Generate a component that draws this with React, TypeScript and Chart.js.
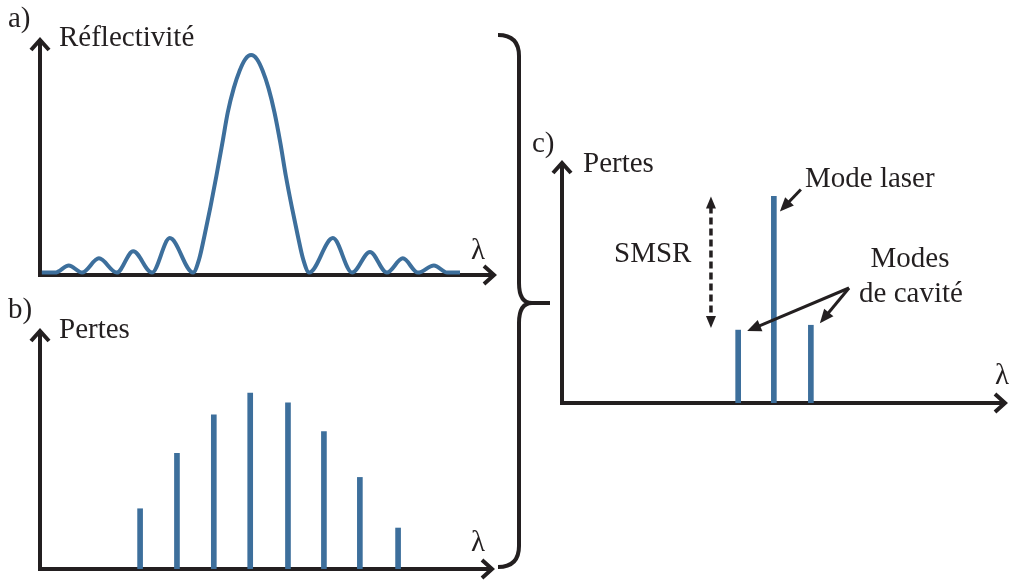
import React, { useEffect, useRef } from "react";
import { Chart, registerables } from "chart.js";

Chart.register(...registerables);

const W = 1011;
const H = 581;
const BLUE = "#3d6f9c";
const INK = "#231f20";
const FONT = '29px "Liberation Serif", "Times New Roman", serif';

// ---- Panel a : reflectivity spectrum (λ in arbitrary units 0..100, R 0..1)
const reflLambda = [0.4, 3.3, 6.3, 9.2, 12.9, 16.8, 20.4, 24.5, 28.4, 33.5, 34.8, 36.0, 37.3, 38.6, 39.9, 41.1, 42.4, 43.7, 44.9, 46.2, 47.5, 48.7, 50.0, 51.3, 52.6, 53.8, 55.1, 56.4, 57.6, 58.9, 64.1, 68.3, 72.2, 75.9, 79.4, 82.7, 86.2, 89.1, 91.9];
const reflValues = [0.01, 0.01, 0.04, 0.01, 0.07, 0.01, 0.10, 0.01, 0.155, 0.01, 0.065, 0.166, 0.286, 0.416, 0.554, 0.684, 0.785, 0.859, 0.906, 0.924, 0.906, 0.859, 0.785, 0.684, 0.554, 0.416, 0.286, 0.166, 0.065, 0.01, 0.155, 0.01, 0.097, 0.01, 0.07, 0.01, 0.04, 0.01, 0.01];

// ---- Panel b : losses of the modes
const bModeLambda = [22.0, 30.1, 38.2, 46.2, 54.5, 62.4, 70.3, 78.7];
const bLosses = [0.25, 0.48, 0.64, 0.73, 0.69, 0.57, 0.38, 0.17];

// ---- Panel c : laser mode and cavity modes
const cModeLambda = [39.5, 47.5, 55.8];
const cLosses = [0.30, 0.85, 0.32];
const smsrLambda = 33.4;

// ---- Texts
const panelLetters = ["a)", "b)", "c)"];
const yTitles = ["Réflectivité", "Pertes", "Pertes"];
const xTitle = "λ";
const smsrLabel = "SMSR";
const laserLabel = "Mode laser";
const cavityLabel = ["Modes", "de cavité"];

type Area = { left: number; top: number; right: number; bottom: number };
const AREA_A: Area = { left: 40, top: 37, right: 497, bottom: 275 };
const AREA_B: Area = { left: 40, top: 328, right: 495, bottom: 569 };
const AREA_C: Area = { left: 562, top: 160, right: 1008, bottom: 403 };

function chevronUp(ctx: CanvasRenderingContext2D, x: number, y: number) {
  ctx.beginPath();
  ctx.moveTo(x - 9, y + 13);
  ctx.lineTo(x, y + 3);
  ctx.lineTo(x + 9, y + 13);
  ctx.stroke();
}
function chevronRight(ctx: CanvasRenderingContext2D, x: number, y: number) {
  ctx.beginPath();
  ctx.moveTo(x - 13, y - 9);
  ctx.lineTo(x - 3, y);
  ctx.lineTo(x - 13, y + 9);
  ctx.stroke();
}

function filledArrow(ctx: CanvasRenderingContext2D, x1: number, y1: number, x2: number, y2: number, len = 14, half = 6, lw = 3) {
  const ang = Math.atan2(y2 - y1, x2 - x1);
  const bx = x2 - len * Math.cos(ang);
  const by = y2 - len * Math.sin(ang);
  ctx.lineWidth = lw;
  ctx.beginPath();
  ctx.moveTo(x1, y1);
  ctx.lineTo(bx + 2 * Math.cos(ang), by + 2 * Math.sin(ang));
  ctx.stroke();
  ctx.beginPath();
  ctx.moveTo(x2, y2);
  ctx.lineTo(bx + half * Math.sin(ang), by - half * Math.cos(ang));
  ctx.lineTo(bx - half * Math.sin(ang), by + half * Math.cos(ang));
  ctx.closePath();
  ctx.fill();
}

const axesPlugin = {
  id: "axesArrows",
  beforeDatasetsDraw(chart: any) {
    const { ctx, chartArea: a } = chart;
    ctx.save();
    ctx.strokeStyle = INK;
    ctx.lineWidth = 4;
    ctx.lineJoin = "miter";
    ctx.lineCap = "butt";
    ctx.beginPath();
    ctx.moveTo(a.left, a.top + 4);
    ctx.lineTo(a.left, a.bottom);
    ctx.lineTo(a.right - 4, a.bottom);
    ctx.stroke();
    chevronUp(ctx, a.left, a.top);
    chevronRight(ctx, a.right, a.bottom);
    ctx.restore();
  },
};

const overlayPlugin = {
  id: "overlay",
  afterDraw(chart: any) {
    const { ctx } = chart;
    const xs = chart.scales.x;
    const ys = chart.scales.y;
    ctx.save();
    ctx.fillStyle = INK;
    ctx.strokeStyle = INK;
    ctx.font = FONT;
    ctx.textBaseline = "alphabetic";
    ctx.textAlign = "left";

    // panel letters and axis titles
    ctx.fillText(panelLetters[0], 8, 27);
    ctx.fillText(yTitles[0], 59, 46);
    ctx.fillText(xTitle, 471, 259);
    ctx.fillText(panelLetters[1], 8, 318);
    ctx.fillText(yTitles[1], 59, 338);
    ctx.fillText(xTitle, 471, 551);
    ctx.fillText(panelLetters[2], 532, 152);
    ctx.fillText(yTitles[2], 583, 172);
    ctx.fillText(xTitle, 995, 384);

    // curly brace
    ctx.lineWidth = 4;
    ctx.lineCap = "butt";
    ctx.beginPath();
    ctx.moveTo(498, 35);
    ctx.quadraticCurveTo(519, 35, 519, 56);
    ctx.lineTo(519, 283);
    ctx.quadraticCurveTo(519, 303, 532, 303);
    ctx.lineTo(550, 303);
    ctx.moveTo(532, 303);
    ctx.quadraticCurveTo(519, 303, 519, 323);
    ctx.lineTo(519, 546);
    ctx.quadraticCurveTo(519, 567, 498, 567);
    ctx.stroke();

    // SMSR dashed double arrow
    const sx = xs.getPixelForValue(smsrLambda);
    const topY = ys.getPixelForValue(Math.max(...cLosses));
    const botY = ys.getPixelForValue(cLosses[0]) - 2;
    ctx.lineWidth = 3.5;
    ctx.setLineDash([7, 4]);
    ctx.beginPath();
    ctx.moveTo(sx, topY + 10);
    ctx.lineTo(sx, botY - 10);
    ctx.stroke();
    ctx.setLineDash([]);
    ctx.beginPath();
    ctx.moveTo(sx, topY);
    ctx.lineTo(sx - 5, topY + 12);
    ctx.lineTo(sx + 5, topY + 12);
    ctx.closePath();
    ctx.fill();
    ctx.beginPath();
    ctx.moveTo(sx, botY);
    ctx.lineTo(sx - 5, botY - 12);
    ctx.lineTo(sx + 5, botY - 12);
    ctx.closePath();
    ctx.fill();
    ctx.fillText(smsrLabel, 614, 262);

    // Mode laser label and arrow
    ctx.fillText(laserLabel, 805, 187);
    const lx = xs.getPixelForValue(cModeLambda[1]);
    const ly = ys.getPixelForValue(cLosses[1]);
    filledArrow(ctx, lx + 27, ly - 7, lx + 6, ly + 15);

    // cavity modes label and arrows
    ctx.textAlign = "center";
    ctx.fillText(cavityLabel[0], 910, 267);
    ctx.fillText(cavityLabel[1], 911, 302);
    ctx.textAlign = "left";
    const ox = 849;
    const oy = 288;
    const m0x = xs.getPixelForValue(cModeLambda[0]);
    const m0y = ys.getPixelForValue(cLosses[0]);
    const m2x = xs.getPixelForValue(cModeLambda[2]);
    const m2y = ys.getPixelForValue(cLosses[2]);
    filledArrow(ctx, ox, oy, m0x + 9, m0y + 1);
    filledArrow(ctx, ox, oy, m2x + 9, m2y - 2);

    ctx.restore();
  },
};

function baseOptions(a: Area) {
  return {
    responsive: false,
    animation: false as const,
    devicePixelRatio: 1,
    events: [],
    layout: {
      padding: { left: a.left, top: a.top, right: W - a.right, bottom: H - a.bottom },
    },
    plugins: { legend: { display: false }, tooltip: { enabled: false }, title: { display: false } },
    scales: {
      x: { type: "linear" as const, min: 0, max: 100, display: false, offset: false },
      y: { type: "linear" as const, min: 0, max: 1, display: false },
    },
  };
}

export default function App() {
  const refA = useRef<HTMLCanvasElement>(null);
  const refB = useRef<HTMLCanvasElement>(null);
  const refC = useRef<HTMLCanvasElement>(null);

  useEffect(() => {
    const chartA = new Chart(refA.current as HTMLCanvasElement, {
      type: "line",
      data: {
        datasets: [
          {
            data: reflLambda.map((x, i) => ({ x, y: reflValues[i] })),
            borderColor: BLUE,
            borderWidth: 4,
            pointRadius: 0,
            cubicInterpolationMode: "monotone",
            fill: false,
            clip: false as any,
          },
        ],
      },
      options: baseOptions(AREA_A) as any,
      plugins: [axesPlugin],
    });

    const chartB = new Chart(refB.current as HTMLCanvasElement, {
      type: "bar",
      data: {
        datasets: [
          {
            data: bModeLambda.map((x, i) => ({ x, y: bLosses[i] })),
            backgroundColor: BLUE,
            borderWidth: 0,
            barThickness: 5,
          },
        ],
      },
      options: baseOptions(AREA_B) as any,
      plugins: [axesPlugin],
    });

    const chartC = new Chart(refC.current as HTMLCanvasElement, {
      type: "bar",
      data: {
        datasets: [
          {
            data: cModeLambda.map((x, i) => ({ x, y: cLosses[i] })),
            backgroundColor: BLUE,
            borderWidth: 0,
            barThickness: 5,
          },
        ],
      },
      options: baseOptions(AREA_C) as any,
      plugins: [axesPlugin, overlayPlugin],
    });

    return () => {
      chartA.destroy();
      chartB.destroy();
      chartC.destroy();
    };
  }, []);

  const cs: React.CSSProperties = { position: "absolute", left: 0, top: 0, width: W, height: H };
  return (
    <div style={{ position: "fixed", left: 0, top: 0, width: W, height: H, background: "#ffffff" }}>
      <canvas ref={refA} width={W} height={H} style={cs} />
      <canvas ref={refB} width={W} height={H} style={cs} />
      <canvas ref={refC} width={W} height={H} style={cs} />
    </div>
  );
}
